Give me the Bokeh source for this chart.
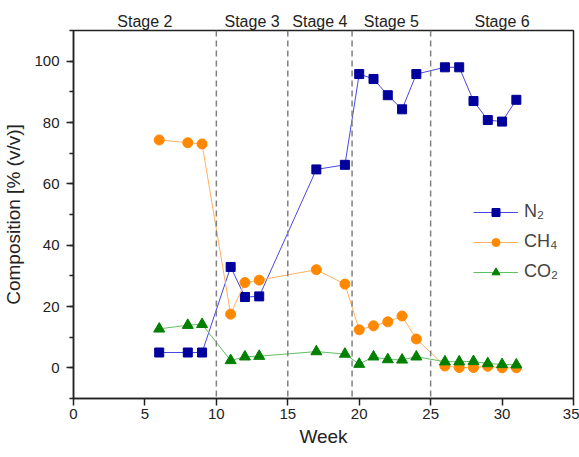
from bokeh.plotting import figure
from bokeh.models import (Range1d, SingleIntervalTicker, LinearAxis, FixedTicker,
                          Legend, LegendItem, Span)
from bokeh.embed import file_html
from bokeh.resources import INLINE

weeks = [6, 8, 9, 11, 12, 13, 17, 19, 20, 21, 22, 23, 24, 26, 27, 28, 29, 30, 31]
n2 = [5.0, 5.0, 5.0, 32.9, 23.1, 23.3, 64.7, 66.2, 95.8, 94.2, 88.9, 84.3, 95.8, 98.0, 98.0, 87.0, 80.8, 80.3, 87.4]
ch4 = [74.3, 73.4, 73.0, 17.5, 27.8, 28.6, 32.0, 27.3, 12.4, 13.7, 15.0, 16.9, 9.4, 0.6, 0.1, 0.1, 0.5, 0.0, 0.0]
co2 = [12.7, 13.9, 14.2, 2.4, 3.6, 3.8, 5.3, 4.5, 1.2, 3.6, 2.7, 2.6, 3.6, 2.0, 2.0, 2.1, 1.4, 1.1, 1.0]
stage_bounds = [10, 15, 19.5, 25]
stage_pos = [5, 12.5, 17.25, 22.25, 30]
stage_names = ["Stage 2", "Stage 3", "Stage 4", "Stage 5", "Stage 6"]

FONT = "Liberation Sans"

p = figure(width=579, height=457, output_backend="svg", toolbar_location=None,
           x_range=Range1d(0, 35), y_range=Range1d(-10, 110),
           min_border_left=72, min_border_right=6, min_border_top=30, min_border_bottom=59)
p.grid.visible = False
p.outline_line_color = "#222222"
p.outline_line_width = 1.5
p.background_fill_color = "white"
p.border_fill_color = "white"

for b in stage_bounds:
    p.add_layout(Span(location=b, dimension="height", line_color="#808080",
                      line_width=1.5, line_dash="6 4"))

r_n2l = p.line(weeks, n2, line_color="#4848E0", line_width=1)
r_n2m = p.scatter(weeks, n2, marker="square", size=9, fill_color="#00009C", line_color="#00009C")
r_chl = p.line(weeks, ch4, line_color="#FFB060", line_width=1)
r_chm = p.scatter(weeks, ch4, marker="circle", size=10, fill_color="#FF8800", line_color="#FF8800")
r_col = p.line(weeks, co2, line_color="#60C060", line_width=1)
r_com = p.scatter(weeks, co2, marker="triangle", size=11, fill_color="#008000", line_color="#008000")

legend = Legend(items=[LegendItem(label="N\u2082", renderers=[r_n2l, r_n2m]),
                       LegendItem(label="CH\u2084", renderers=[r_chl, r_chm]),
                       LegendItem(label="CO\u2082", renderers=[r_col, r_com])],
                location=(390, 106), background_fill_alpha=0, border_line_alpha=0,
                label_text_font=FONT, label_text_font_size="18px", glyph_width=45,
                glyph_height=20, spacing=9, label_standoff=6)
p.add_layout(legend)

xa = p.xaxis[0]
xa.ticker = SingleIntervalTicker(interval=5, num_minor_ticks=0)
xa.axis_label = "Week"
xa.major_label_standoff = 3
xa.axis_label_standoff = 4
ya = p.yaxis[0]
ya.ticker = SingleIntervalTicker(interval=20, num_minor_ticks=2)
ya.axis_label = "Composition [% (v/v)]"
ya.major_label_standoff = 7
ya.axis_label_standoff = 7
for ax in (xa, ya):
    ax.axis_line_width = 1.5
    ax.axis_line_color = "#222222"
    ax.major_tick_line_color = "#222222"
    ax.major_tick_line_width = 1.5
    ax.minor_tick_line_color = "#222222"
    ax.minor_tick_line_width = 1.5
    ax.major_tick_in = 0
    ax.major_tick_out = 7
    ax.minor_tick_in = 0
    ax.minor_tick_out = 4
    ax.major_label_text_font = FONT
    ax.major_label_text_font_size = "15px"
    ax.major_label_text_color = "#222222"
    ax.axis_label_text_font = FONT
    ax.axis_label_text_font_size = "19px"
    ax.axis_label_text_font_style = "normal"
    ax.axis_label_text_color = "#222222"
ya.major_label_orientation = "horizontal"

top = LinearAxis(ticker=FixedTicker(ticks=stage_pos),
                 major_label_overrides={float(t): n for t, n in zip(stage_pos, stage_names)})
top.axis_line_color = None
top.major_tick_line_color = None
top.minor_tick_line_color = None
top.major_tick_out = 0
top.major_label_standoff = 1
top.major_label_text_font = FONT
top.major_label_text_font_size = "16px"
top.major_label_text_color = "#222222"
p.add_layout(top, "above")

open("out.html", "w").write(file_html(p, INLINE))
